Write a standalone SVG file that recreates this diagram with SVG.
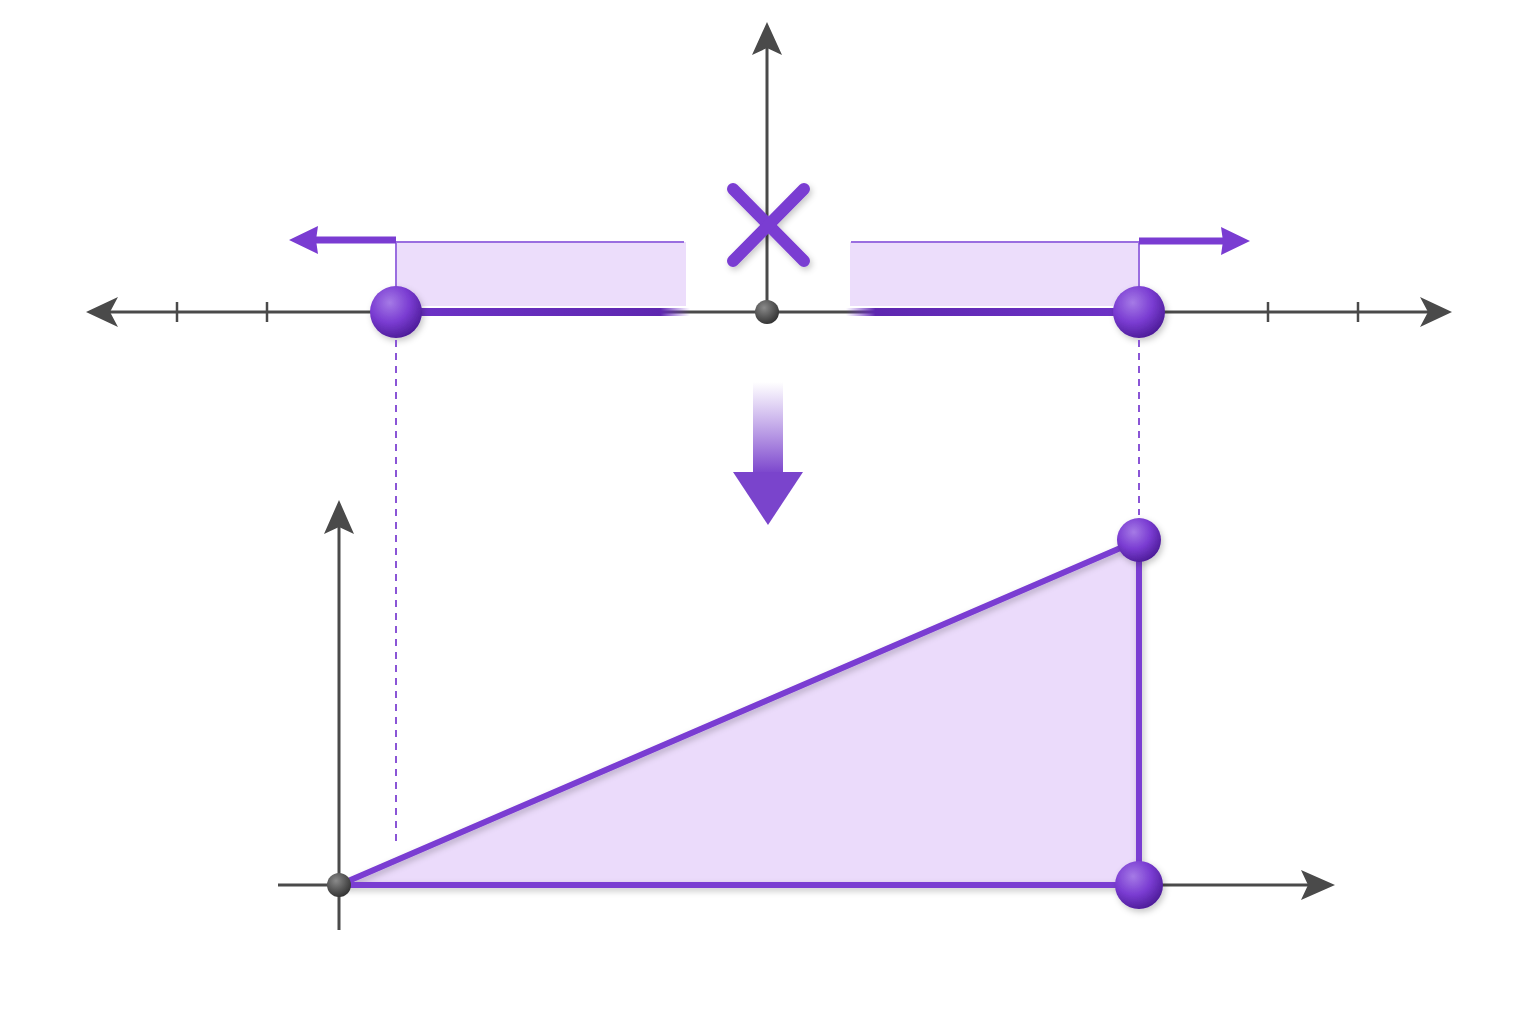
<svg xmlns="http://www.w3.org/2000/svg" width="1536" height="1024" viewBox="0 0 1536 1024">
<defs>
<style>
.axis{stroke:#4a4a4a;stroke-width:3;fill:none}
.tick{stroke:#4a4a4a;stroke-width:2.5}
.pl{stroke:#7a3cd2;stroke-width:6;stroke-linecap:round;fill:none}
.dash{stroke:#8a55d6;stroke-width:2;stroke-dasharray:7 6;fill:none}
.head{fill:#4a4a4a}
.phead{fill:#7a3cd2}
</style>
<radialGradient id="ball" cx="0.38" cy="0.32" r="0.7">
<stop offset="0" stop-color="#a57ae6"/>
<stop offset="0.55" stop-color="#7a3cd2"/>
<stop offset="1" stop-color="#4e1d9a"/>
</radialGradient>
<radialGradient id="gball" cx="0.38" cy="0.32" r="0.7">
<stop offset="0" stop-color="#8a8a8a"/>
<stop offset="0.6" stop-color="#555"/>
<stop offset="1" stop-color="#333"/>
</radialGradient>
<linearGradient id="fadeL" x1="0" y1="0" x2="1" y2="0">
<stop offset="0" stop-color="#6e33c8"/>
<stop offset="0.9" stop-color="#5e27b0"/>
<stop offset="1" stop-color="#7a3cd2" stop-opacity="0"/>
</linearGradient>
<linearGradient id="fadeR" x1="0" y1="0" x2="1" y2="0">
<stop offset="0" stop-color="#7a3cd2" stop-opacity="0"/>
<stop offset="0.1" stop-color="#5e27b0"/>
<stop offset="1" stop-color="#6e33c8"/>
</linearGradient>
<linearGradient id="shaft" x1="0" y1="0" x2="0" y2="1">
<stop offset="0" stop-color="#8a55d6" stop-opacity="0"/>
<stop offset="1" stop-color="#7a44cc"/>
</linearGradient>
<filter id="sh" filterUnits="userSpaceOnUse" x="0" y="0" width="1536" height="1024">
<feDropShadow dx="2" dy="3" stdDeviation="3" flood-color="#000" flood-opacity="0.22"/>
</filter>
</defs>
<rect width="1536" height="1024" fill="#ffffff"/>

<g id="top-chart">
<line class="axis" x1="105" y1="312" x2="1430" y2="312"/>
<polygon class="head" points="86,312 118,297 110,312 118,327"/>
<polygon class="head" points="1452,312 1420,297 1428,312 1420,327"/>
<line class="axis" x1="767" y1="312" x2="767" y2="45"/>
<polygon class="head" points="767,22 752,55 767,48 782,55"/>
<line class="tick" x1="177" y1="302" x2="177" y2="322"/>
<line class="tick" x1="267" y1="302" x2="267" y2="322"/>
<line class="tick" x1="1268" y1="302" x2="1268" y2="322"/>
<line class="tick" x1="1358" y1="302" x2="1358" y2="322"/>
</g>

<g id="left-region">
<rect x="396" y="242" width="290" height="64" fill="#ead9fb" opacity="0.9"/>
<line x1="396" y1="242" x2="684" y2="242" stroke="#9a6ee0" stroke-width="2"/>
<line x1="396" y1="242" x2="396" y2="300" stroke="#9a6ee0" stroke-width="2"/>
<rect x="396" y="308" width="294" height="8" fill="url(#fadeL)"/>
<line x1="396" y1="240" x2="314" y2="240" stroke="#7a3cd2" stroke-width="7"/>
<polygon class="phead" points="289,240 318,226 316,240 318,254"/>
</g>

<g id="right-region">
<rect x="850" y="242" width="289" height="64" fill="#ead9fb" opacity="0.9"/>
<line x1="851" y1="242" x2="1139" y2="242" stroke="#9a6ee0" stroke-width="2"/>
<line x1="1139" y1="242" x2="1139" y2="300" stroke="#9a6ee0" stroke-width="2"/>
<rect x="846" y="308" width="293" height="8" fill="url(#fadeR)"/>
<line x1="1139" y1="241" x2="1226" y2="241" stroke="#7a3cd2" stroke-width="7"/>
<polygon class="phead" points="1250,241 1221,227 1223,241 1221,255"/>
</g>

<g id="excluded-mark" filter="url(#sh)">
<line class="pl" x1="733" y1="189" x2="804" y2="261" style="stroke-width:12"/>
<line class="pl" x1="804" y1="189" x2="733" y2="261" style="stroke-width:12"/>
</g>

<g id="top-origin">
<circle cx="767" cy="312" r="12" fill="url(#gball)"/>
</g>
<g id="left-endpoint">
<circle cx="396" cy="312" r="26" fill="url(#ball)" filter="url(#sh)"/>
</g>
<g id="right-endpoint">
<circle cx="1139" cy="312" r="26" fill="url(#ball)" filter="url(#sh)"/>
</g>

<g id="connectors">
<line class="dash" x1="396" y1="340" x2="396" y2="842"/>
<line class="dash" x1="1139" y1="340" x2="1139" y2="515"/>
</g>

<g id="down-arrow">
<rect x="753" y="382" width="30" height="92" fill="url(#shaft)"/>
<polygon points="733,472 803,472 768,525" fill="#7a44cc"/>
</g>

<g id="bottom-chart">
<line class="axis" x1="339" y1="930" x2="339" y2="525"/>
<polygon class="head" points="339,500 324,534 339,527 354,534"/>
<line class="axis" x1="278" y1="885" x2="1310" y2="885"/>
<polygon class="head" points="1335,885 1301,870 1308,885 1301,900"/>
</g>

<g id="triangle">
<polygon points="339,885 1139,540 1139,885" fill="#ead9fb" opacity="0.95"/>
<g filter="url(#sh)">
<line class="pl" x1="339" y1="885" x2="1139" y2="540"/>
<line class="pl" x1="1139" y1="540" x2="1139" y2="885"/>
<line class="pl" x1="339" y1="885" x2="1139" y2="885"/>
</g>
</g>

<g id="bottom-origin">
<circle cx="339" cy="885" r="12" fill="url(#gball)"/>
</g>
<g id="top-vertex">
<circle cx="1139" cy="540" r="22" fill="url(#ball)" filter="url(#sh)"/>
</g>
<g id="corner-vertex">
<circle cx="1139" cy="885" r="24" fill="url(#ball)" filter="url(#sh)"/>
</g>
</svg>
